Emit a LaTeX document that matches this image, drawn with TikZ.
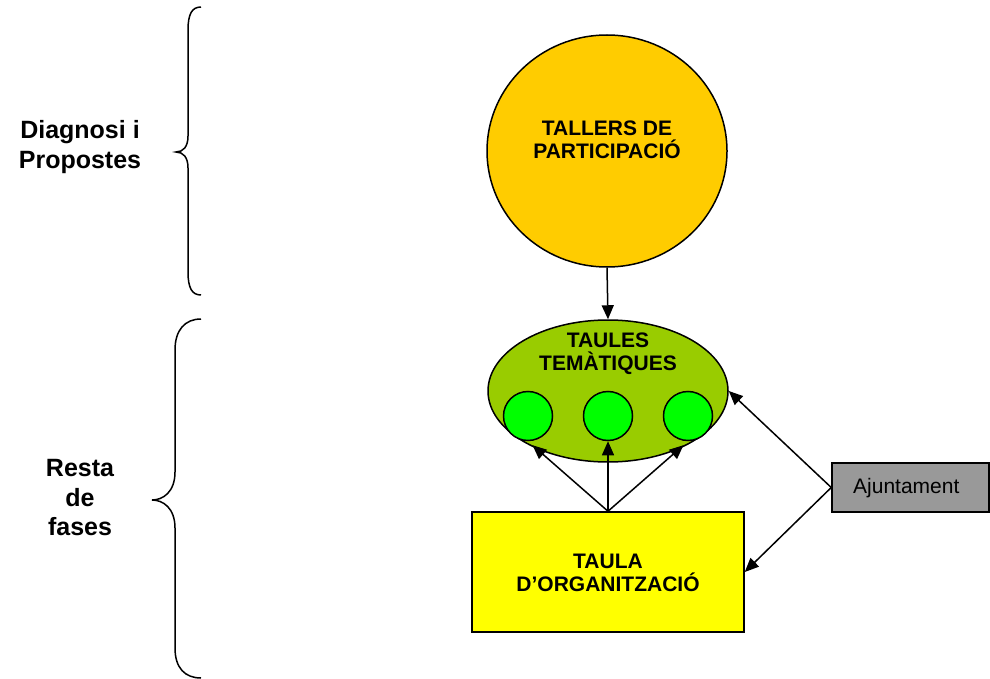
\documentclass[tikz,border=0pt]{standalone}
\usepackage{fontspec}
\setmainfont{Liberation Sans}
\usetikzlibrary{shapes.geometric,arrows.meta}
\definecolor{orangeY}{HTML}{FFCC00}
\definecolor{greenT}{HTML}{99CC00}
\definecolor{greenC}{HTML}{00FF00}
\definecolor{yellowT}{HTML}{FFFF00}
\definecolor{grayA}{HTML}{999999}
\begin{document}
\begin{tikzpicture}[x=1pt,y=-1pt,
  shapeline/.style={draw=black,line width=1.5pt},
  conn/.style={line width=1.5pt,-{Triangle[length=14pt,width=12pt]}},
  boxtext/.style={font=\fontsize{21}{23}\selectfont\bfseries,align=center,inner sep=0pt},
  sidelabel/.style={font=\fontsize{25}{29.5}\selectfont\bfseries,align=center,inner sep=0pt},
  bracestyle/.style={line width=1.5pt}]
\useasboundingbox (0,0) rectangle (990,679);
% shapes
\node[shapeline,ellipse,fill=orangeY,minimum width=240pt,minimum height=232pt,inner sep=0pt] (tallers) at (607,151) {};
\node[boxtext] (tallersT) at (607,140) {TALLERS DE\\PARTICIPACIÓ};
\node[shapeline,ellipse,fill=greenT,minimum width=240pt,minimum height=142pt,inner sep=0pt] (taules) at (608,391) {};
\node[boxtext] (taulesT) at (608,354) {TAULES\\TEMÀTIQUES};
\node[shapeline,circle,fill=greenC,minimum size=49pt,inner sep=0pt] (c1) at (528,416) {};
\node[shapeline,circle,fill=greenC,minimum size=49pt,inner sep=0pt] (c2) at (608,416) {};
\node[shapeline,circle,fill=greenC,minimum size=49pt,inner sep=0pt] (c3) at (688,416) {};
\node[shapeline,rectangle,fill=yellowT,minimum width=272pt,minimum height=120pt,inner sep=0pt] (org) at (608,572) {};
\node[boxtext] (orgT) at (608,573) {TAULA\\D’ORGANITZACIÓ};
\node[shapeline,rectangle,fill=grayA,minimum width=157pt,minimum height=49pt,inner sep=0pt] (aj) at (910.5,487.5) {};
\node[font=\fontsize{21}{23}\selectfont,anchor=west,inner sep=0pt] (ajT) at (853,488) {Ajuntament};
% connectors
\draw[conn] (tallers.south) -- (taules.north);
\draw[conn,shorten >=6pt] (org.north) -- (c1.south);
\draw[conn] (org.north) -- (c2.south);
\draw[conn,shorten >=6pt] (org.north) -- (c3.south);
\draw[conn] (aj.west) -- (taules.east);
\draw[conn] (aj.west) -- (org.east);
% side labels
\node[sidelabel] (diag) at (80,147) {Diagnosi i\\Propostes};
\node[sidelabel] (resta) at (80,498) {Resta\\de\\fases};
% braces
\draw[bracestyle] (201,7) .. controls (192,7) and (188,14) .. (188,30) -- (188,136)
  .. controls (188,147) and (183,152) .. (176,152)
  .. controls (183,152) and (188,157) .. (188,168) -- (188,272)
  .. controls (188,288) and (192,295) .. (201,295);
\draw[bracestyle] (201,319) .. controls (185,319) and (175,330) .. (175,350) -- (175,472)
  .. controls (175,492) and (163,500) .. (152,500)
  .. controls (163,500) and (175,508) .. (175,528) -- (175,648)
  .. controls (175,668) and (185,678) .. (201,678);
\end{tikzpicture}
\end{document}
